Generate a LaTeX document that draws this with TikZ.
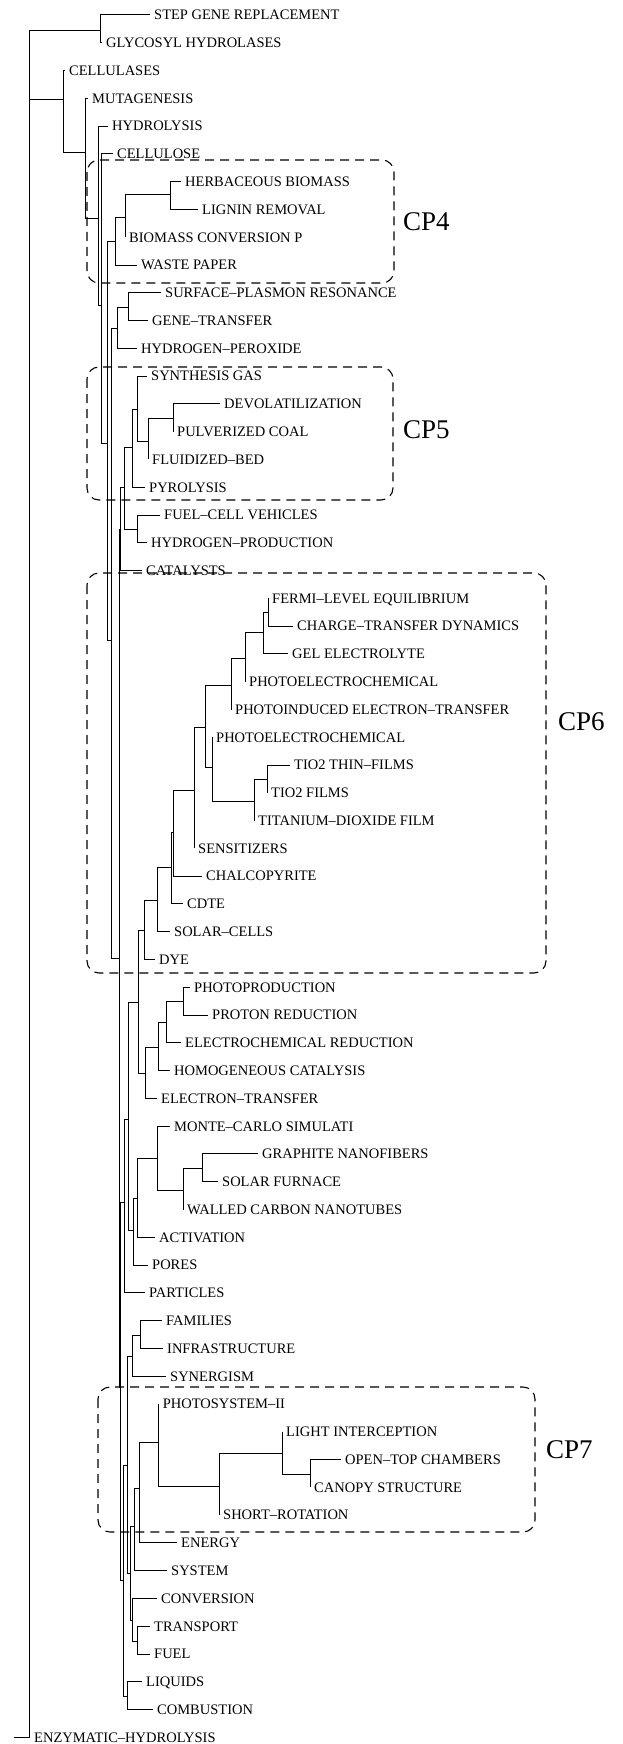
\documentclass[tikz,border=0pt]{standalone}
\usepackage{fontspec}
\setmainfont{Liberation Serif}

\tikzset{
  lbl/.style={anchor=base west, inner sep=0pt, xshift=4pt, yshift=-4.8pt, font=\fontsize{14.5}{16}\selectfont},
  cplbl/.style={anchor=west, inner sep=0pt, font=\fontsize{27}{30}\selectfont},
  cpbox/.style={draw, line width=1.1pt, dash pattern=on 9pt off 6pt, rounded corners=12pt},
  branch/.style={line width=1pt},
}
% leaf: name, tip x, row, text
\newcommand{\leaf}[4]{%
  \coordinate (#1) at (#2,{15+(#3-1)*27.78});
  \node[lbl] (#1t) at (#1) {#4};}

\begin{document}
\begin{tikzpicture}[x=1pt,y=-1pt]
    \useasboundingbox (0,0) rectangle (622,1744);

    % cluster boxes
    \draw[cpbox] (87,160) rectangle (394,283);
    \draw[cpbox] (87,367) rectangle (393,500);
    \draw[cpbox] (87,573) rectangle (546,973);
    \draw[cpbox] (98,1387) rectangle (535,1532);
    \node[cplbl] (cp4) at (403,222) {CP4};
    \node[cplbl] (cp5) at (403,430) {CP5};
    \node[cplbl] (cp6) at (558,722) {CP6};
    \node[cplbl] (cp7) at (546,1450) {CP7};

    % leaves
    \leaf{l1}{150}{1}{STEP GENE REPLACEMENT}
    \leaf{l2}{102}{2}{GLYCOSYL HYDROLASES}
    \leaf{l3}{65}{3}{CELLULASES}
    \leaf{l4}{88}{4}{MUTAGENESIS}
    \leaf{l5}{108}{5}{HYDROLYSIS}
    \leaf{l6}{113}{6}{CELLULOSE}
    \leaf{l7}{181}{7}{HERBACEOUS BIOMASS}
    \leaf{l8}{198}{8}{LIGNIN REMOVAL}
    \leaf{l9}{125}{9}{BIOMASS CONVERSION P}
    \leaf{l10}{137}{10}{WASTE PAPER}
    \leaf{l11}{161}{11}{SURFACE–PLASMON RESONANCE}
    \leaf{l12}{148}{12}{GENE–TRANSFER}
    \leaf{l13}{137}{13}{HYDROGEN–PEROXIDE}
    \leaf{l14}{147}{14}{SYNTHESIS GAS}
    \leaf{l15}{220}{15}{DEVOLATILIZATION}
    \leaf{l16}{173}{16}{PULVERIZED COAL}
    \leaf{l17}{148}{17}{FLUIDIZED–BED}
    \leaf{l18}{145}{18}{PYROLYSIS}
    \leaf{l19}{160}{19}{FUEL–CELL VEHICLES}
    \leaf{l20}{147}{20}{HYDROGEN–PRODUCTION}
    \leaf{l21}{142}{21}{CATALYSTS}
    \leaf{l22}{268}{22}{FERMI–LEVEL EQUILIBRIUM}
    \leaf{l23}{293}{23}{CHARGE–TRANSFER DYNAMICS}
    \leaf{l24}{288}{24}{GEL ELECTROLYTE}
    \leaf{l25}{245}{25}{PHOTOELECTROCHEMICAL}
    \leaf{l26}{231}{26}{PHOTOINDUCED ELECTRON–TRANSFER}
    \leaf{l27}{212}{27}{PHOTOELECTROCHEMICAL}
    \leaf{l28}{290}{28}{TIO2 THIN–FILMS}
    \leaf{l29}{267}{29}{TIO2 FILMS}
    \leaf{l30}{254}{30}{TITANIUM–DIOXIDE FILM}
    \leaf{l31}{194}{31}{SENSITIZERS}
    \leaf{l32}{202}{32}{CHALCOPYRITE}
    \leaf{l33}{183}{33}{CDTE}
    \leaf{l34}{170}{34}{SOLAR–CELLS}
    \leaf{l35}{155}{35}{DYE}
    \leaf{l36}{190}{36}{PHOTOPRODUCTION}
    \leaf{l37}{208}{37}{PROTON REDUCTION}
    \leaf{l38}{181}{38}{ELECTROCHEMICAL REDUCTION}
    \leaf{l39}{170}{39}{HOMOGENEOUS CATALYSIS}
    \leaf{l40}{157}{40}{ELECTRON–TRANSFER}
    \leaf{l41}{170}{41}{MONTE–CARLO SIMULATI}
    \leaf{l42}{258}{42}{GRAPHITE NANOFIBERS}
    \leaf{l43}{218}{43}{SOLAR FURNACE}
    \leaf{l44}{183}{44}{WALLED CARBON NANOTUBES}
    \leaf{l45}{155}{45}{ACTIVATION}
    \leaf{l46}{148}{46}{PORES}
    \leaf{l47}{145}{47}{PARTICLES}
    \leaf{l48}{162}{48}{FAMILIES}
    \leaf{l49}{163}{49}{INFRASTRUCTURE}
    \leaf{l50}{166}{50}{SYNERGISM}
    \leaf{l51}{158.6}{51}{PHOTOSYSTEM–II}
    \leaf{l52}{282}{52}{LIGHT INTERCEPTION}
    \leaf{l53}{341}{53}{OPEN–TOP CHAMBERS}
    \leaf{l54}{310}{54}{CANOPY STRUCTURE}
    \leaf{l55}{219}{55}{SHORT–ROTATION}
    \leaf{l56}{177}{56}{ENERGY}
    \leaf{l57}{167}{57}{SYSTEM}
    \leaf{l58}{157}{58}{CONVERSION}
    \leaf{l59}{150}{59}{TRANSPORT}
    \leaf{l60}{150}{60}{FUEL}
    \leaf{l61}{142}{61}{LIQUIDS}
    \leaf{l62}{153}{62}{COMBUSTION}
    % the last leaf hangs to the left of the root
    \coordinate (l63) at (14,{15+62*27.78});
    \node[lbl] (l63t) at (30,{15+62*27.78}) {ENZYMATIC–HYDROLYSIS};

    % internal nodes
    \coordinate (r) at (29,885);
    \coordinate (a) at (100,31);
    \coordinate (b) at (63,100);
    \coordinate (c) at (85,153);
    \coordinate (d) at (98.5,219);
    \coordinate (e) at (101.5,305);
    \coordinate (f) at (107,443);
    \coordinate (g) at (115,242);
    \coordinate (g1) at (125,218);
    \coordinate (g2) at (170,195);
    \coordinate (h) at (111,640);
    \coordinate (i) at (117.5,328);
    \coordinate (i1) at (128,307);
    \coordinate (w) at (119,958);
    \coordinate (v) at (120.5,529);
    \coordinate (t) at (124,487);
    \coordinate (t1) at (132,447);
    \coordinate (t2) at (137,409);
    \coordinate (t3) at (148,441);
    \coordinate (t4) at (173,418);
    \coordinate (t5) at (137,529);
    \coordinate (o) at (120.5,1387);
    \coordinate (p) at (124,1202);
    \coordinate (q) at (128.5,1119);
    \coordinate (q1) at (138,1002);
    \coordinate (dy) at (144,930);
    \coordinate (s1) at (157,900);
    \coordinate (s2) at (171,867);
    \coordinate (s3) at (173,832);
    \coordinate (s4) at (194,790);
    \coordinate (s5) at (205,727);
    \coordinate (s6) at (231,685);
    \coordinate (s7) at (245,658);
    \coordinate (s8) at (263,632);
    \coordinate (s9) at (268,612);
    \coordinate (s10) at (212,767);
    \coordinate (s11) at (254,801);
    \coordinate (s12) at (267,779);
    \coordinate (et) at (145,1073);
    \coordinate (e1) at (158,1047);
    \coordinate (e2) at (166,1022);
    \coordinate (e3) at (183,1001);
    \coordinate (m1) at (133,1230);
    \coordinate (m2) at (137,1198);
    \coordinate (m3) at (157,1158);
    \coordinate (m4) at (183,1190);
    \coordinate (m5) at (202,1168);
    \coordinate (nn) at (123,1580);
    \coordinate (mm) at (127.5,1465);
    \coordinate (sy) at (132.7,1356);
    \coordinate (fa) at (140.7,1335);
    \coordinate (ll) at (130.7,1573);
    \coordinate (k) at (134.3,1526);
    \coordinate (k1) at (139,1488);
    \coordinate (k2) at (158.6,1442);
    \coordinate (k3) at (219,1486);
    \coordinate (k4) at (282,1453);
    \coordinate (k5) at (310,1474);
    \coordinate (j) at (132.5,1620);
    \coordinate (j1) at (137,1641);
    \coordinate (lq) at (127.5,1696);

    % branches
    \foreach \p/\c in {r/a, r/b, r/l63, a/l1, a/l2, b/l3, b/c, c/l4, c/d,
        d/l5, d/e, e/l6, e/f, f/g, f/h, g/g1, g/l10, g1/g2, g1/l9, g2/l7, g2/l8,
        h/i, h/w, i/i1, i/l13, i1/l11, i1/l12, w/v, w/o, v/t, v/l21,
        t/t1, t/t5, t1/t2, t1/l18, t2/l14, t2/t3, t3/t4, t3/l17, t4/l15, t4/l16,
        t5/l19, t5/l20, o/p, o/nn, p/q, p/l47, q/q1, q/m1, q1/dy, q1/et,
        dy/s1, dy/l35, s1/s2, s1/l34, s2/s3, s2/l33, s3/s4, s3/l32, s4/s5, s4/l31,
        s5/s6, s5/s10, s6/s7, s6/l26, s7/s8, s7/l25, s8/s9, s8/l24, s9/l22, s9/l23,
        s10/l27, s10/s11, s11/s12, s11/l30, s12/l28, s12/l29,
        et/e1, et/l40, e1/e2, e1/l39, e2/e3, e2/l38, e3/l36, e3/l37,
        m1/m2, m1/l46, m2/m3, m2/l45, m3/l41, m3/m4, m4/m5, m4/l44, m5/l42, m5/l43,
        nn/mm, nn/lq, mm/sy, mm/ll, sy/fa, sy/l50, fa/l48, fa/l49, ll/k, ll/j,
        k/k1, k/l57, k1/k2, k1/l56, k2/l51, k2/k3, k3/k4, k3/l55, k4/l52, k4/k5,
        k5/l53, k5/l54, j/l58, j/j1, j1/l59, j1/l60, lq/l61, lq/l62}
        \draw[branch] (\p) |- (\c);
\end{tikzpicture}
\end{document}
